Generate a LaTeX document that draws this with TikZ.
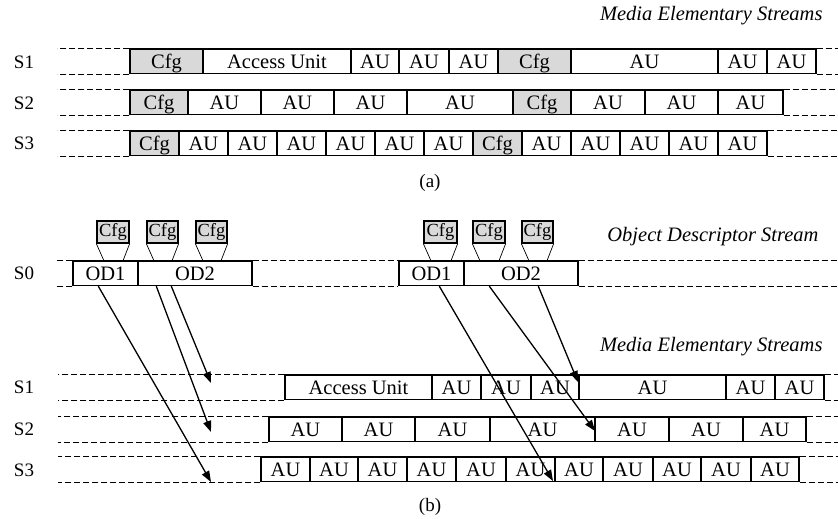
\documentclass[tikz,border=0pt]{standalone}
\usepackage{fontspec}
\setmainfont{Liberation Serif}
\usetikzlibrary{arrows.meta}

\tikzset{
  cell/.style={draw, line width=1.4pt, minimum height=24.5pt, inner sep=0pt,
    font=\fontsize{20.5}{24}\selectfont, text height=13.6pt, text depth=0pt},
  au/.style={fill=white},
  cfg/.style={fill=black!15},
  mini/.style={draw, line width=1.3pt, fill=black!15, minimum height=22pt, inner sep=0pt,
    font=\fontsize{18.5}{20}\selectfont, text height=12pt, text depth=2.5pt},
  dashline/.style={line width=1.2pt, dash pattern=on 6pt off 3pt},
  fan/.style={line width=0.7pt},
  link/.style={line width=1.3pt, -{Triangle[length=11pt,width=8pt]}},
  rowlabel/.style={font=\fontsize{19}{22}\selectfont},
  title/.style={font=\fontsize{20.5}{24}\selectfont\itshape, anchor=east},
}

% a row of stream cells: prefix, top edge, list of x0/x1/text/style
\newcommand\cellrow[3]{%
  \foreach \xa/\xb/\txt/\sty [count=\i] in {#3} {%
    \node[cell,\sty,minimum width={(\xb-\xa)*1pt}] (#1\i) at ({(\xa+\xb)/2},{#2+12.25}) {\txt};
  }%
}

\begin{document}
\begin{tikzpicture}[x=1pt,y=-1pt]
\useasboundingbox (0,0) rectangle (838,519);

% ---------------- (a) ----------------
\node[title] (mesa) at (826,16) {Media Elementary Streams};

\node[rowlabel] (la1) at (24,62) {S1};
\node[rowlabel] (la2) at (24,103) {S2};
\node[rowlabel] (la3) at (24,143) {S3};

\cellrow{aa}{49}{130/203/Cfg/cfg, 203/351/Access Unit/au, 351/399/AU/au, 399/449/AU/au,
  449/498/AU/au, 498/571/Cfg/cfg, 571/718/AU/au, 718/767/AU/au, 767/816/AU/au}
\cellrow{ab}{90}{130/188/Cfg/cfg, 188/261/AU/au, 261/334/AU/au, 334/407/AU/au,
  407/513/AU/au, 513/571/Cfg/cfg, 571/645/AU/au, 645/718/AU/au, 718/783/AU/au}
\cellrow{ac}{131}{130/179/Cfg/cfg, 179/228/AU/au, 228/277/AU/au, 277/326/AU/au,
  326/375/AU/au, 375/424/AU/au, 424/473/AU/au, 473/522/Cfg/cfg, 522/571/AU/au,
  571/620/AU/au, 620/669/AU/au, 669/718/AU/au, 718/767/AU/au}

\foreach \r/\first/\last in {aa/1/9, ab/1/9, ac/1/13} {
  \draw[dashline] (\r\first.north west) -- ++(-72,0);
  \draw[dashline] (\r\first.south west) -- ++(-72,0);
  \draw[dashline] (\r\last.north east) -- (838,0 |- \r\last.north east);
  \draw[dashline] (\r\last.south east) -- (838,0 |- \r\last.south east);
}

\node[font=\fontsize{19}{22}\selectfont] (capa) at (430,183) {(a)};

% ---------------- (b) ----------------
\node[title] (ods) at (822,237) {Object Descriptor Stream};
\node[title] (mesb) at (826,347) {Media Elementary Streams};

\node[rowlabel] (l0) at (24,273) {S0};
\node[rowlabel] (lb1) at (24,387) {S1};
\node[rowlabel] (lb2) at (24,429) {S2};
\node[rowlabel] (lb3) at (24,470) {S3};

% object descriptor stream
\cellrow{od}{261}{73/138/OD1/au, 138/252/OD2/au, 399/464/OD1/au, 464/578/OD2/au}
\draw[dashline] (od1.north west) -- ++(-16,0);
\draw[dashline] (od1.south west) -- ++(-16,0);
\draw[dashline] (od2.north east) -- (od3.north west);
\draw[dashline] (od2.south east) -- (od3.south west);
\draw[dashline] (od4.north east) -- (838,0 |- od4.north east);
\draw[dashline] (od4.south east) -- (838,0 |- od4.south east);

% configuration boxes carried by the descriptors
\foreach \xa/\xb [count=\i] in {97/129, 147/178, 196/227, 424/457, 473/505, 522/553} {
  \node[mini, minimum width={(\xb-\xa)*1pt}] (cf\i) at ({(\xa+\xb)/2},232) {Cfg};
  \draw[fan] (cf\i.south west) -- ++(8,18);
  \draw[fan] (cf\i.south east) -- ++(-7,18);
}

% media streams after the descriptors
\cellrow{ba}{375}{285/432/Access Unit/au, 432/481/AU/au, 481/531/AU/au, 531/579/AU/au,
  579/726/AU/au, 726/775/AU/au, 775/824/AU/au}
\cellrow{bb}{417}{269/342/AU/au, 342/415/AU/au, 415/490/AU/au, 490/595/AU/au,
  595/669/AU/au, 669/743/AU/au, 743/806/AU/au}
\cellrow{bc}{457}{261/310/AU/au, 310/358/AU/au, 358/407/AU/au, 407/456/AU/au,
  456/506/AU/au, 506/555/AU/au, 555/603/AU/au, 603/653/AU/au, 653/701/AU/au,
  701/751/AU/au, 751/799/AU/au}

\foreach \r/\last in {ba/7, bb/7, bc/11} {
  \draw[dashline] (\r1.north west) -- (58,0 |- \r1.north west);
  \draw[dashline] (\r1.south west) -- (58,0 |- \r1.south west);
  \draw[dashline] (\r\last.north east) -- (838,0 |- \r\last.north east);
  \draw[dashline] (\r\last.south east) -- (838,0 |- \r\last.south east);
}

% descriptor references into the media streams
\coordinate (t1) at (211,482);
\coordinate (t2) at (211,432);
\coordinate (t3) at (211,383);
\coordinate (t4) at (553,481);
\coordinate (t5) at (595,431);
\coordinate (t6) at (578,382);
\draw[link] ([xshift=26pt]od1.south west) -- (t1);
\draw[link] ([xshift=19pt]od2.south west) -- (t2);
\draw[link] ([xshift=34pt]od2.south west) -- (t3);
\draw[link] ([xshift=41pt]od3.south west) -- (t4);
\draw[link] ([xshift=26pt]od4.south west) -- (t5);
\draw[link] ([xshift=75pt]od4.south west) -- (t6);

\node[font=\fontsize{19}{22}\selectfont] (capb) at (430,507) {(b)};
\end{tikzpicture}
\end{document}
